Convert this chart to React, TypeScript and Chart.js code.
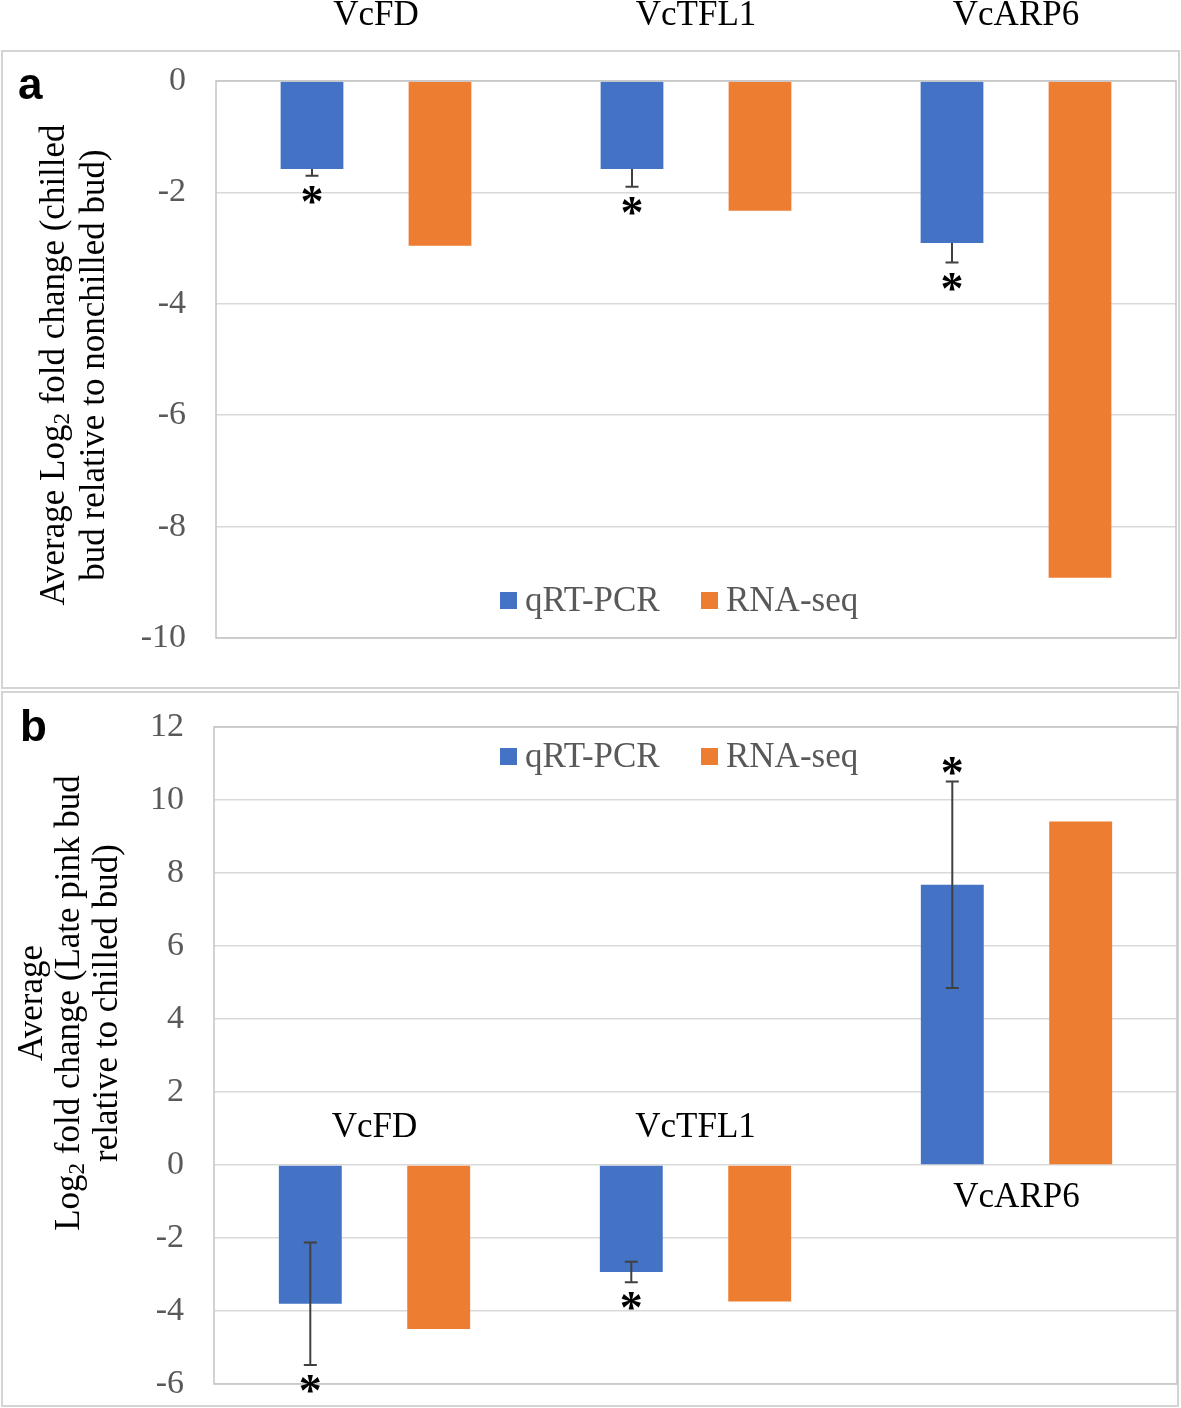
import React, { useEffect, useRef } from 'react';
import { Chart, registerables } from 'chart.js';

Chart.register(...registerables);

// ---------- data ----------
const genes = ['VcFD', 'VcTFL1', 'VcARP6'];
const seriesNames = ['qRT-PCR', 'RNA-seq'];
const seriesColors = ['#4472C4', '#ED7D31'];

// Panel a: chilled bud relative to nonchilled bud
const qrtA = [-1.58, -1.58, -2.91];
const rnaA = [-2.96, -2.33, -8.92];
const errA = [0.12, 0.32, 0.35];
const sigA = [true, true, true];
const yTicksA = [0, -2, -4, -6, -8, -10];

// Panel b: late pink bud relative to chilled bud
const qrtB = [-3.8, -2.93, 7.68];
const rnaB = [-4.49, -3.74, 9.41];
const errB = [1.68, 0.28, 2.83];
const sigB = [true, true, true];
const yTicksB = [12, 10, 8, 6, 4, 2, 0, -2, -4, -6];

type Seg = { t: string; sub?: boolean };
const titleA: Seg[][] = [
  [{ t: 'Average Log' }, { t: '2', sub: true }, { t: ' fold change (chilled' }],
  [{ t: 'bud relative to nonchilled bud)' }],
];
const titleB: Seg[][] = [
  [{ t: 'Average' }],
  [{ t: 'Log' }, { t: '2', sub: true }, { t: ' fold change (Late pink bud' }],
  [{ t: 'relative to chilled bud)' }],
];

const SERIF = "'Liberation Serif', 'Times New Roman', serif";
const SANS = "'Liberation Sans', Arial, sans-serif";
const FS = 35;

type Cfg = {
  top: number;
  height: number;
  area: { left: number; right: number; top: number; bottom: number };
  qrt: number[];
  rna: number[];
  err: number[];
  sig: boolean[];
  errBoth: boolean;
  yTicks: number[];
  border: [number, number, number, number];
  letter: string;
  letterPos: [number, number];
  title: Seg[][];
  titleX: number[];
  titleY: number;
  legendY: number;
  catMode: 'top' | 'axis';
};

function drawRich(ctx: CanvasRenderingContext2D, segs: Seg[], size: number) {
  const fontN = `${size}px ${SERIF}`;
  const fontS = `${Math.round(size * 0.65)}px ${SERIF}`;
  let total = 0;
  const widths = segs.map((s) => {
    ctx.font = s.sub ? fontS : fontN;
    const w = ctx.measureText(s.t).width;
    total += w;
    return w;
  });
  let x = -total / 2;
  segs.forEach((s, i) => {
    ctx.font = s.sub ? fontS : fontN;
    ctx.fillText(s.t, x, s.sub ? size * 0.22 : 0);
    x += widths[i];
  });
}

function makePlugin(cfg: Cfg) {
  return {
    id: 'panelDeco',
    beforeDraw(chart: any) {
      const ctx: CanvasRenderingContext2D = chart.ctx;
      ctx.save();
      ctx.fillStyle = '#ffffff';
      ctx.fillRect(0, 0, chart.width, chart.height);
      ctx.strokeStyle = '#d4d4d4';
      ctx.lineWidth = 2;
      const [bx, by, bw, bh] = cfg.border;
      ctx.strokeRect(bx, by, bw, bh);
      ctx.restore();
    },
    afterDraw(chart: any) {
      const ctx: CanvasRenderingContext2D = chart.ctx;
      const a = chart.chartArea;
      const xs = chart.scales.x;
      const ys = chart.scales.y;
      ctx.save();
      // plot box
      ctx.strokeStyle = '#c4c4c4';
      ctx.lineWidth = 1.5;
      ctx.strokeRect(a.left, a.top, a.right - a.left, a.bottom - a.top);

      // error bars and significance stars
      const meta = chart.getDatasetMeta(0);
      cfg.qrt.forEach((v, i) => {
        const bar = meta.data[i];
        const cx = bar.x;
        const dir = v < 0 ? -1 : 1;
        const far = v + dir * cfg.err[i];
        const near = cfg.errBoth ? v - dir * cfg.err[i] : v;
        const yFar = ys.getPixelForValue(far);
        const yNear = ys.getPixelForValue(near);
        ctx.strokeStyle = '#404040';
        ctx.lineWidth = 2;
        ctx.beginPath();
        ctx.moveTo(cx, yNear);
        ctx.lineTo(cx, yFar);
        ctx.moveTo(cx - 6.5, yFar);
        ctx.lineTo(cx + 6.5, yFar);
        if (cfg.errBoth) {
          ctx.moveTo(cx - 6.5, yNear);
          ctx.lineTo(cx + 6.5, yNear);
        }
        ctx.stroke();
        if (cfg.sig[i]) {
          ctx.font = `bold 46px ${SERIF}`;
          ctx.fillStyle = '#000';
          ctx.textAlign = 'center';
          ctx.textBaseline = 'alphabetic';
          const m = ctx.measureText('*');
          const gc = (m.actualBoundingBoxAscent - m.actualBoundingBoxDescent) / 2;
          const sy = yFar + (v < 0 ? 19 : -15);
          ctx.fillText('*', cx, sy + gc);
        }
      });

      // category labels
      ctx.font = `${FS}px ${SERIF}`;
      ctx.fillStyle = '#000';
      ctx.textAlign = 'center';
      ctx.textBaseline = 'middle';
      const y0 = ys.getPixelForValue(0);
      genes.forEach((g, i) => {
        const cx = xs.getPixelForValue(i);
        let ty: number;
        if (cfg.catMode === 'top') ty = 16;
        else ty = cfg.qrt[i] < 0 ? y0 - 37 : y0 + 33;
        ctx.fillText(g, cx, ty);
      });

      // y title (rotated)
      ctx.fillStyle = '#000';
      ctx.textAlign = 'left';
      ctx.textBaseline = 'middle';
      cfg.title.forEach((segs, li) => {
        ctx.save();
        ctx.translate(cfg.titleX[li], cfg.titleY);
        ctx.rotate(-Math.PI / 2);
        drawRich(ctx, segs, FS);
        ctx.restore();
      });

      // legend
      const legX = [[500, 525], [701, 726]];
      ctx.font = `${FS}px ${SERIF}`;
      ctx.textBaseline = 'middle';
      ctx.textAlign = 'left';
      seriesNames.forEach((n, i) => {
        ctx.fillStyle = seriesColors[i];
        ctx.fillRect(legX[i][0], cfg.legendY - 9, 17, 17);
        ctx.fillStyle = '#595959';
        ctx.fillText(n, legX[i][1], cfg.legendY + 1);
      });

      // panel letter
      ctx.font = `bold 44px ${SANS}`;
      ctx.fillStyle = '#000';
      ctx.textAlign = 'left';
      ctx.textBaseline = 'alphabetic';
      ctx.fillText(cfg.letter, cfg.letterPos[0], cfg.letterPos[1]);
      ctx.restore();
    },
  };
}

function Panel({ cfg }: { cfg: Cfg }) {
  const ref = useRef<HTMLCanvasElement>(null);
  useEffect(() => {
    const canvas = ref.current!;
    const yMin = Math.min(...cfg.yTicks);
    const yMax = Math.max(...cfg.yTicks);
    const step = Math.abs(cfg.yTicks[1] - cfg.yTicks[0]);
    const chart = new Chart(canvas, {
      type: 'bar',
      data: {
        labels: genes,
        datasets: [
          {
            label: seriesNames[0],
            data: cfg.qrt,
            backgroundColor: seriesColors[0],
            barPercentage: 0.49,
            categoryPercentage: 0.8,
          },
          {
            label: seriesNames[1],
            data: cfg.rna,
            backgroundColor: seriesColors[1],
            barPercentage: 0.49,
            categoryPercentage: 0.8,
          },
        ],
      },
      options: {
        animation: false,
        responsive: false,
        maintainAspectRatio: false,
        layout: {
          padding: {
            left: 0,
            top: cfg.area.top,
            right: 1181 - cfg.area.right,
            bottom: cfg.height - cfg.area.bottom,
          },
        },
        plugins: {
          legend: { display: false },
          tooltip: { enabled: false },
        },
        scales: {
          x: { display: false },
          y: {
            min: yMin,
            max: yMax,
            ticks: {
              stepSize: step,
              padding: 3,
              color: '#595959',
              font: { family: SERIF, size: FS - 1 },
            },
            grid: {
              color: '#d9d9d9',
              lineWidth: 1.5,
              drawTicks: true,
              tickLength: 27,
              tickColor: 'rgba(0,0,0,0)',
            },
            border: { display: false },
            afterFit: (s: any) => {
              s.width = cfg.area.left;
            },
          },
        },
      },
      plugins: [makePlugin(cfg) as any],
    });
    return () => chart.destroy();
  }, []);
  return (
    <canvas
      ref={ref}
      width={1181}
      height={cfg.height}
      style={{ position: 'absolute', left: 0, top: cfg.top, width: 1181, height: cfg.height }}
    />
  );
}

const cfgA: Cfg = {
  top: 0,
  height: 690,
  area: { left: 216, right: 1176, top: 81, bottom: 638 },
  qrt: qrtA,
  rna: rnaA,
  err: errA,
  sig: sigA,
  errBoth: false,
  yTicks: yTicksA,
  border: [2, 51, 1177, 637],
  letter: 'a',
  letterPos: [18, 99],
  title: titleA,
  titleX: [55, 95],
  titleY: 365,
  legendY: 601,
  catMode: 'top',
};

const cfgB: Cfg = {
  top: 690,
  height: 718,
  area: { left: 214, right: 1177, top: 37, bottom: 694 },
  qrt: qrtB,
  rna: rnaB,
  err: errB,
  sig: sigB,
  errBoth: true,
  yTicks: yTicksB,
  border: [2, 2, 1176, 714],
  letter: 'b',
  letterPos: [20, 741 - 690],
  title: titleB,
  titleX: [33, 70, 108],
  titleY: 1003 - 690,
  legendY: 757 - 690,
  catMode: 'axis',
};

export default function App() {
  return (
    <div style={{ position: 'absolute', left: 0, top: 0, width: 1181, height: 1408, background: '#fff' }}>
      <Panel cfg={cfgA} />
      <Panel cfg={cfgB} />
    </div>
  );
}
